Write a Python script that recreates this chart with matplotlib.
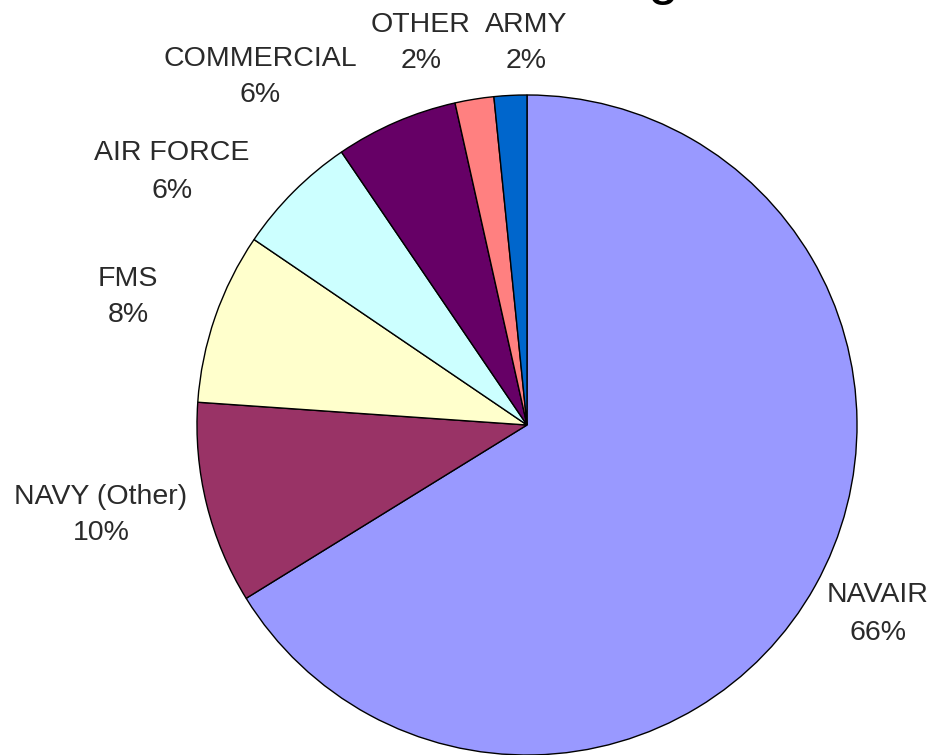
import matplotlib.pyplot as plt

# segment data, clockwise from 12 o'clock (as Excel draws it)
names = ['NAVAIR', 'NAVY (Other)', 'FMS', 'AIR FORCE', 'COMMERCIAL', 'OTHER', 'ARMY']
shares = [66.2, 9.9, 8.4, 6.0, 6.0, 1.9, 1.6]
colors = ['#9999FF', '#993366', '#FFFFCC', '#CCFFFF', '#660066', '#FF8080', '#0066CC']

# where each label sits (pixel centre in the 935x755 picture)
label_px = [(878, 614), (101, 515), (128, 297), (172, 172), (260, 77), (421, 43), (526, 43)]

W, H = 935, 755
cx, cy, r = 527, 425, 331

fig = plt.figure(figsize=(W / 100, H / 100), dpi=100)
ax = fig.add_axes([(cx - r) / W, (H - cy - r) / H, 2 * r / W, 2 * r / H])

ax.pie(shares, colors=colors, startangle=90, counterclock=False,
       wedgeprops={'edgecolor': 'black', 'linewidth': 1.0})
ax.set_xlim(-1.003, 1.003)
ax.set_ylim(-1.003, 1.003)
ax.axis('off')

for name, val, (px, py) in zip(names, shares, label_px):
    fig.text(px / W, 1 - py / H, '%s\n%d%%' % (name, round(val)),
             ha='center', va='center', fontsize=20.5, color='#2a2a2a',
             family='Liberation Sans', linespacing=1.55)

# the title is cut off above the picture, only the tail of a 'g' shows
fig.text(663 / W, 1 + 7 / H, 'g', ha='center', va='baseline', fontsize=40,
         family='Liberation Sans', color='black')

fig.savefig('out.png', dpi=100)
